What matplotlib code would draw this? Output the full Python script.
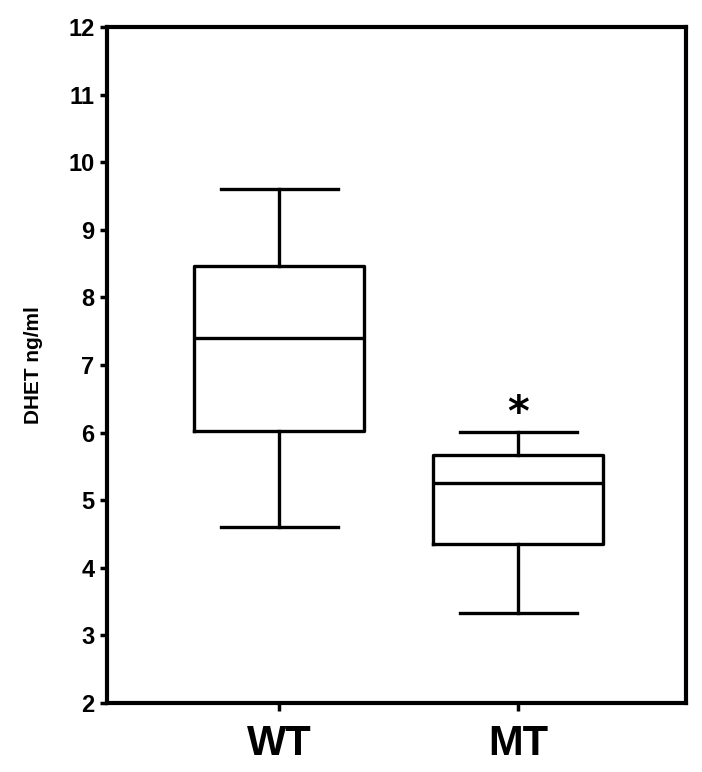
import matplotlib
matplotlib.use("Agg")
import matplotlib.pyplot as plt
from matplotlib import font_manager

groups = ["WT", "MT"]
whisker_low = [4.61, 3.33]
q1 = [6.02, 4.35]
median = [7.40, 5.25]
q3 = [8.47, 5.67]
whisker_high = [9.60, 6.01]
sig_marks = ["", "*"]
sig_y = [None, 6.28]
yticks = [2, 3, 4, 5, 6, 7, 8, 9, 10, 11, 12]

names = {f.name for f in font_manager.fontManager.ttflist}
fam = "Liberation Sans Narrow" if "Liberation Sans Narrow" in names else "Liberation Sans"
plt.rcParams['font.family'] = [fam, 'DejaVu Sans']

fig = plt.figure(figsize=(7.02, 7.72), dpi=100)
ax = fig.add_axes([0.1524, 0.0894, 0.977 - 0.1524, 0.965 - 0.0894])

stats = []
for i, g in enumerate(groups):
    stats.append(dict(label=g, whislo=whisker_low[i], q1=q1[i], med=median[i],
                      q3=q3[i], whishi=whisker_high[i], fliers=[]))

lw = 2.4
ax.bxp(stats, positions=[1, 2], widths=0.71, capwidths=0.49, showfliers=False,
       boxprops=dict(color='black', linewidth=lw),
       medianprops=dict(color='black', linewidth=lw),
       whiskerprops=dict(color='black', linewidth=lw),
       capprops=dict(color='black', linewidth=lw))

for i, m in enumerate(sig_marks):
    if m:
        ax.text(i + 1, sig_y[i], m, ha='center', va='center', fontsize=30,
                fontweight='bold', family='DejaVu Sans')

ax.set_xlim(0.28, 2.70)
ax.set_ylim(2, 12)
ax.set_yticks(yticks)
ax.set_yticklabels([str(t) for t in yticks], fontsize=17, fontweight='bold')
ax.set_xticks([1, 2])
ax.set_xticklabels(groups, fontsize=30, fontweight='bold')
ax.tick_params(axis='y', direction='out', length=5, width=2.5, pad=4)
ax.tick_params(axis='x', direction='out', length=6, width=2.5, pad=9)
for s in ax.spines.values():
    s.set_linewidth(3.0)
    s.set_color('black')

ax.set_ylabel("DHET ng/ml", fontsize=15, fontweight='bold', labelpad=18)

fig.savefig("out.png", dpi=100)
